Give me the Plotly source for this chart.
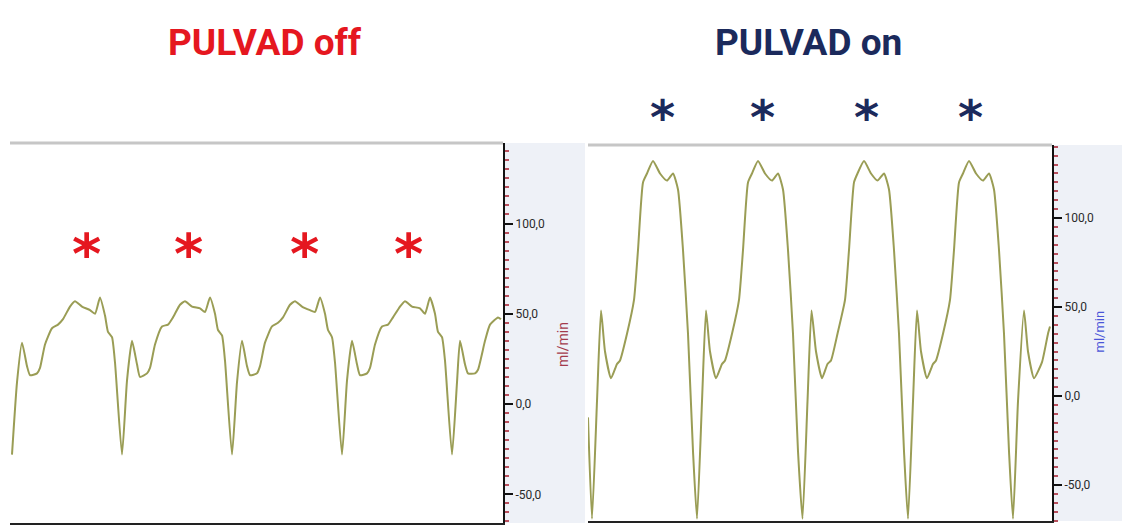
import plotly.graph_objects as go

# ---------------- data ----------------
# PULVAD off : flow (ml/min) vs time (s)
off_t = [0.02, 0.07, 0.12, 0.17, 0.20, 0.27, 0.30, 0.35, 0.42, 0.48, 0.53, 0.60, 0.65, 0.72, 0.80, 0.85, 0.90, 0.95, 0.98, 1.02, 1.05,
         1.12, 1.17, 1.22, 1.27, 1.30, 1.37, 1.40, 1.45, 1.52, 1.58, 1.63, 1.70, 1.75, 1.82, 1.90, 1.95, 2.00, 2.05, 2.08, 2.12, 2.15,
         2.22, 2.27, 2.32, 2.37, 2.40, 2.47, 2.50, 2.55, 2.62, 2.68, 2.73, 2.80, 2.85, 2.92, 3.00, 3.05, 3.10, 3.15, 3.18, 3.22, 3.25,
         3.32, 3.37, 3.42, 3.47, 3.50, 3.57, 3.60, 3.65, 3.72, 3.78, 3.83, 3.90, 3.95, 4.02, 4.10, 4.15, 4.20, 4.25, 4.28, 4.32, 4.35,
         4.42, 4.47, 4.50, 4.55, 4.58, 4.65, 4.68, 4.75, 4.80, 4.88, 4.91]
off_v = [-28, 12, 34, 21, 16, 17, 20, 33, 42, 44, 47, 54, 57, 54, 52, 50, 59, 49, 40, 37, 23,
         -28, 13, 35, 22, 15, 17, 20, 33, 43, 44, 48, 55, 57, 54, 53, 51, 59, 50, 41, 38, 24,
         -28, 12, 35, 21, 16, 17, 21, 34, 43, 45, 48, 55, 57, 54, 52, 51, 59, 50, 41, 37, 23,
         -28, 13, 35, 22, 16, 17, 20, 33, 43, 44, 48, 54, 57, 54, 53, 50, 59, 50, 40, 37, 24,
         -28, 12, 35, 22, 17, 17, 19, 35, 44, 48, 47]

# PULVAD on
on_t = [0.00,
        0.04, 0.09, 0.13, 0.17, 0.23, 0.29, 0.32, 0.39, 0.46, 0.50, 0.55, 0.59, 0.65, 0.72, 0.79, 0.85, 0.90, 0.95, 1.00, 1.05,
        1.09, 1.14, 1.18, 1.22, 1.28, 1.34, 1.37, 1.44, 1.51, 1.55, 1.60, 1.64, 1.70, 1.77, 1.84, 1.90, 1.95, 2.00, 2.05, 2.10,
        2.145, 2.195, 2.235, 2.28, 2.34, 2.395, 2.43, 2.495, 2.57, 2.61, 2.66, 2.695, 2.76, 2.83, 2.895, 2.96, 3.01, 3.06, 3.11, 3.16,
        3.20, 3.25, 3.29, 3.33, 3.39, 3.45, 3.48, 3.55, 3.62, 3.66, 3.71, 3.75, 3.81, 3.88, 3.95, 4.01, 4.06, 4.11, 4.16, 4.21,
        4.25, 4.30, 4.36, 4.40, 4.46, 4.54, 4.60, 4.62]
on_v = [-12,
        -69, -3, 48, 25, 10, 18, 20, 35, 54, 82, 120, 125, 132, 125, 121, 125, 116, 82, 35, -31,
        -69, -3, 48, 25, 10, 18, 20, 35, 54, 82, 120, 125, 132, 125, 121, 125, 116, 82, 35, -31,
        -69, -3, 48, 25, 10, 18, 20, 35, 54, 82, 120, 125, 132, 125, 121, 125, 116, 82, 35, -31,
        -69, -3, 48, 25, 10, 18, 20, 35, 54, 82, 120, 125, 132, 125, 121, 125, 116, 82, 35, -31,
        -69, -3, 48, 25, 10, 19, 35, 39]

# asterisks marking the beats (time, and height as fraction of the panel)
star_off_t = [0.76, 1.78, 2.94, 3.98]
star_off_h = [0.71, 0.71, 0.71, 0.71]
star_on_t = [0.74, 1.74, 2.78, 3.82]
star_on_h = [1.075, 1.075, 1.075, 1.075]

tick_vals = [-50, 0, 50, 100]
tick_text = ["-50,0", "0,0", "50,0", "100,0"]

titles = ["PULVAD off", "PULVAD on"]
unit = "ml/min"

# ---------------- styles ----------------
W, H = 1122, 527
LINE = "#9a9d55"
RED = "#e5171f"
NAVY = "#1b2a5c"
TITLE_FONT = "Roboto, Liberation Sans, sans-serif"
TICK_FONT = "Roboto, Liberation Sans, sans-serif"

fig = go.Figure()
fig.add_trace(go.Scatter(x=off_t, y=off_v, mode="lines",
                         line=dict(color=LINE, width=2, shape="spline", smoothing=0.5),
                         xaxis="x", yaxis="y", showlegend=False, hoverinfo="skip"))
fig.add_trace(go.Scatter(x=on_t, y=on_v, mode="lines",
                         line=dict(color=LINE, width=2, shape="spline", smoothing=0.5),
                         xaxis="x2", yaxis="y2", showlegend=False, hoverinfo="skip"))

def yax(domain, rng, anchor):
    return dict(domain=domain, range=rng, anchor=anchor, side="right",
                tickmode="array", tickvals=tick_vals, ticktext=tick_text,
                ticks="outside", ticklen=8, tickwidth=2, tickcolor="#111111",
                minor=dict(dtick=5, ticks="outside", ticklen=4, tickwidth=1.5, tickcolor="#b8505e"),
                showline=True, linecolor="#111111", linewidth=2,
                showgrid=False, zeroline=False,
                tickfont=dict(family=TICK_FONT, size=12, color="#2a2a2a"), fixedrange=True)

def xax(domain, rng, anchor):
    return dict(domain=domain, range=rng, anchor=anchor, showticklabels=False, ticks="",
                showline=True, linecolor="#222222", linewidth=2, showgrid=False, zeroline=False,
                fixedrange=True)

annotations = [
    dict(text="<b>%s</b>" % titles[0], xref="paper", yref="paper", x=265 / W, y=1 - 43 / H,
         showarrow=False, font=dict(family=TITLE_FONT, size=37, color=RED), xanchor="center", yanchor="middle"),
    dict(text="<b>%s</b>" % titles[1], xref="paper", yref="paper", x=808 / W, y=1 - 43 / H,
         showarrow=False, font=dict(family=TITLE_FONT, size=37, color=NAVY), xanchor="center", yanchor="middle"),
    dict(text=unit, xref="paper", yref="paper", x=563 / W, y=1 - 345 / H, textangle=-90,
         showarrow=False, font=dict(family=TICK_FONT, size=14, color="#a33a4c")),
    dict(text=unit, xref="paper", yref="paper", x=1108 / W, y=1 - 332 / H, textangle=-90,
         showarrow=False, font=dict(family=TICK_FONT, size=13, color="#4a55d8")),
]
for t, h in zip(star_off_t, star_off_h):
    annotations.append(dict(text="<b>*</b>", x=t, xref="x", y=h, yref="y domain", showarrow=False,
                            font=dict(family="DejaVu Sans", size=56, color=RED),
                            xanchor="center", yanchor="middle"))
for t, h in zip(star_on_t, star_on_h):
    annotations.append(dict(text="<b>*</b>", x=t, xref="x2", y=h, yref="y2 domain", showarrow=False,
                            font=dict(family="DejaVu Sans", size=48, color=NAVY),
                            xanchor="center", yanchor="middle"))

fig.update_layout(
    width=W, height=H, margin=dict(l=0, r=0, t=0, b=0),
    paper_bgcolor="white", plot_bgcolor="white",
    xaxis=xax([10 / W, 503 / W], [0, 4.93], "y"),
    yaxis=yax([4 / H, 384 / H], [-65.9, 144.6], "x"),
    xaxis2=xax([588 / W, 1052 / W], [0, 4.64], "y2"),
    yaxis2=yax([6 / H, 382 / H], [-70.2, 141.0], "x2"),
    shapes=[
        dict(type="rect", xref="paper", yref="paper", x0=505 / W, x1=585 / W, y0=4 / H, y1=384 / H,
             fillcolor="#eef1f7", line=dict(width=0), layer="below"),
        dict(type="rect", xref="paper", yref="paper", x0=1054 / W, x1=1, y0=6 / H, y1=382 / H,
             fillcolor="#eef1f7", line=dict(width=0), layer="below"),
        dict(type="line", xref="x domain", yref="y domain", x0=0, x1=1, y0=1, y1=1,
             line=dict(color="#c6c6c6", width=3)),
        dict(type="line", xref="x2 domain", yref="y2 domain", x0=0, x1=1, y0=1, y1=1,
             line=dict(color="#c6c6c6", width=3)),
    ],
    annotations=annotations,
)

fig.write_html("out.html")
